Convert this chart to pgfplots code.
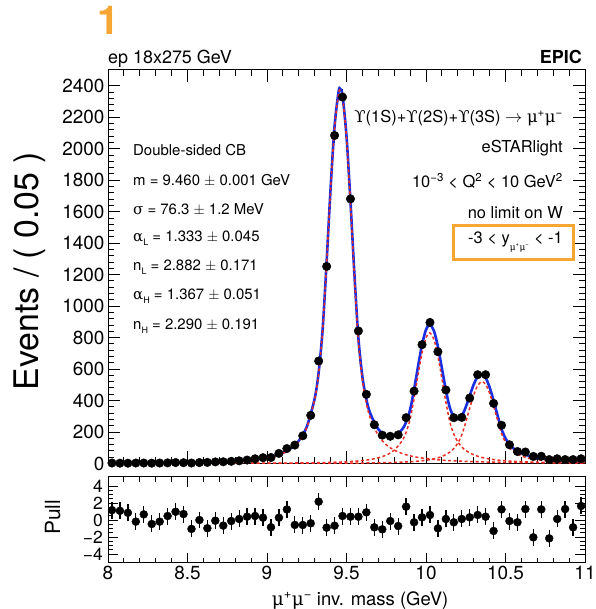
\documentclass[border=0pt]{standalone}
\usepackage{pgfplots}
\pgfplotsset{compat=1.18}
\usepackage{fontspec}
\setmainfont{TeX Gyre Heros}
\newfontfamily\grk{DejaVu Serif}
\definecolor{fitblue}{RGB}{25,45,225}
\definecolor{fitred}{RGB}{235,45,35}
\definecolor{hlorange}{RGB}{247,166,52}

\newcommand{\fs}[1]{\fontsize{#1}{#1}\selectfont}
\newcommand{\mup}{{\grk μ}\textsuperscript{+}}
\newcommand{\mum}{{\grk μ}\textsuperscript{−}}
\newcommand{\lsub}[1]{\raisebox{-0.45ex}{\fs{9}#1}}

% binned data: bin centre, events, stat. error
\pgfplotstableread{
x y e
8.025 3 1.7
8.075 2 1.4
8.125 2 1.4
8.175 3 1.7
8.225 3 1.7
8.275 2 1.4
8.325 3 1.7
8.375 4 2.0
8.425 6 2.4
8.475 5 2.2
8.525 3 1.7
8.575 6 2.4
8.625 7 2.6
8.675 10 3.2
8.725 11 3.3
8.775 14 3.7
8.825 17 4.1
8.875 22 4.7
8.925 30 5.5
8.975 37 6.1
9.025 38 6.2
9.075 64 8.0
9.125 95 9.7
9.175 117 10.8
9.225 176 13.3
9.275 306 17.5
9.325 651 25.5
9.375 1252 35.4
9.425 2084 45.7
9.475 2328 48.2
9.525 1681 41.0
9.575 842 29.0
9.625 439 21.0
9.675 246 15.7
9.725 180 13.4
9.775 173 13.2
9.825 182 13.5
9.875 291 17.1
9.925 460 21.4
9.975 755 27.5
10.025 896 29.9
10.075 710 26.6
10.125 467 21.6
10.175 291 17.1
10.225 293 17.1
10.275 416 20.4
10.325 564 23.7
10.375 564 23.7
10.425 382 19.5
10.475 243 15.6
10.525 119 10.9
10.575 76 8.7
10.625 73 8.5
10.675 45 6.7
10.725 46 6.8
10.775 25 5.0
10.825 30 5.5
10.875 25 5.0
10.925 25 5.0
10.975 30 5.5
}\datatab

% total fit (sum of the three double-sided CB shapes)
\pgfplotstableread{
x y
8.0 2.0
8.2 2.9
8.4 4.6
8.6 7.8
8.8 15.5
8.9 23.3
9.0 37.5
9.05 49.6
9.1 67.8
9.15 96.5
9.2 144.6
9.25 232.8
9.3 413.4
9.325 580.7
9.35 853
9.375 1281.5
9.4 1748.7
9.425 2143
9.45 2361
9.46 2381
9.475 2337
9.5 2079
9.525 1664
9.55 1199
9.575 794
9.6 551.5
9.625 407
9.65 316.8
9.7 218.1
9.75 178.2
9.8 176
9.85 216.6
9.875 263.6
9.9 341.9
9.925 469.6
9.95 617.5
9.975 754.7
10.0 850.4
10.023 882.8
10.05 842.4
10.075 741.4
10.1 605.6
10.125 466.2
10.15 353.9
10.175 298.2
10.2 282.3
10.225 301.4
10.25 358
10.275 431.1
10.3 501.6
10.325 552.5
10.352 568.7
10.375 545.1
10.4 484.3
10.425 399.4
10.45 305.7
10.475 219
10.5 159.2
10.525 121.4
10.55 96.1
10.6 65
10.65 47.5
10.7 36.4
10.75 29
10.8 23.7
10.9 16.8
11.0 12.6
}\totaltab

% Upsilon(1S) component
\pgfplotstableread{
x y
8.0 1.6
8.2 2.4
8.4 3.9
8.6 6.8
8.8 13.8
8.9 21.2
9.0 35.0
9.05 46.7
9.1 64.5
9.15 92.7
9.2 140.2
9.25 227.7
9.3 407.5
9.325 574.3
9.35 846
9.375 1274
9.4 1740
9.425 2133
9.45 2350
9.46 2370
9.475 2325
9.5 2066
9.525 1649
9.55 1182
9.575 775
9.6 529.7
9.625 382
9.65 287.6
9.7 177.7
9.75 119.3
9.8 85.0
9.85 63.3
9.9 48.7
9.95 38.5
10.0 31.2
10.1 21.4
10.2 15.5
10.3 11.7
10.4 9.1
10.5 7.3
10.6 5.9
10.7 4.9
10.8 4.1
10.9 3.5
11.0 3.0
}\onestab

% Upsilon(2S) component
\pgfplotstableread{
x y
8.0 0.3
8.5 0.6
9.0 1.9
9.2 3.4
9.3 4.7
9.4 7.0
9.5 11.0
9.55 14.1
9.6 18.7
9.65 25.4
9.7 35.9
9.75 53.3
9.8 84.1
9.85 144.5
9.875 198
9.9 281.7
9.925 413
9.95 563.7
9.975 702
10.0 798.7
10.023 830
10.05 787.3
10.075 682
10.1 539.7
10.125 390.1
10.15 263.6
10.175 186.2
10.2 137.7
10.225 105.5
10.25 83.1
10.3 54.9
10.35 38.7
10.4 28.6
10.45 21.8
10.5 17.2
10.55 13.8
10.6 11.3
10.65 9.5
10.7 8.0
10.8 5.9
10.9 4.5
11.0 3.5
}\twostab

% Upsilon(3S) component
\pgfplotstableread{
x y
8.0 0.1
9.0 0.6
9.4 1.6
9.6 3.0
9.7 4.4
9.8 6.7
9.85 8.6
9.9 11.2
9.95 14.9
10.0 20.5
10.05 29.5
10.1 44.5
10.15 72.2
10.175 95.2
10.2 129.1
10.225 181.5
10.25 261.5
10.275 351.6
10.3 435
10.325 495.5
10.352 520
10.375 502.1
10.4 446.6
10.425 365.8
10.45 275.8
10.475 191.9
10.5 134.7
10.525 99.1
10.55 75.7
10.6 47.8
10.65 32.6
10.7 23.5
10.75 17.6
10.8 13.7
10.85 10.9
10.9 8.8
10.95 7.3
11.0 6.1
}\threestab

% pulls
\pgfplotstableread{
x p
8.025 1.16
8.075 1.08
8.125 0.85
8.175 -0.19
8.225 0.66
8.275 -0.47
8.325 -0.19
8.375 0.47
8.425 0.97
8.475 0.70
8.525 -1.05
8.575 0.00
8.625 -0.97
8.675 -0.08
8.725 -0.66
8.775 -0.12
8.825 0.12
8.875 0.39
8.925 0.47
8.975 0.27
9.025 -0.85
9.075 0.27
9.125 1.24
9.175 -0.58
9.225 -0.59
9.275 -0.39
9.325 2.16
9.375 -0.90
9.425 -0.67
9.475 0.47
9.525 0.39
9.575 0.39
9.625 0.90
9.675 -0.86
9.725 -1.10
9.775 -0.12
9.825 -0.71
9.875 1.57
9.925 -0.27
9.975 0.31
10.025 0.59
10.075 -0.98
10.125 0.12
10.175 -0.27
10.225 0.12
10.275 0.31
10.325 0.59
10.375 0.39
10.425 -1.29
10.475 1.25
10.525 -0.12
10.575 -0.27
10.625 1.29
10.675 -2.04
10.725 1.25
10.775 -2.16
10.825 0.12
10.875 1.29
10.925 -0.86
10.975 1.65
}\pulltab

\pgfplotsset{
  rootframe/.style={
    scale only axis, width=477bp,
    xmin=8, xmax=11,
    xtick={8,8.5,...,11}, minor x tick num=4,
    tick align=inside, xtick pos=both, ytick pos=both,
    axis line style={black, line width=1bp},
    tick style={black, line width=0.9bp},
    /pgf/number format/assume math mode=true,
    /pgf/number format/1000 sep={},
    tick label style={font=\fs{19}},
  },
  datapts/.style={only marks, mark=*, mark size=4.3pt,
    mark options={black, fill=black},
    error bars/.cd, y dir=both, y explicit,
    error mark=none, error bar style={black, line width=1.3bp}},
}

\begin{document}
\begin{tikzpicture}
\path[use as bounding box] (0,0) rectangle (596bp,609bp);

% upper panel: invariant-mass spectrum with fit
\begin{axis}[rootframe,
  at={(108bp,539bp)}, anchor=north west, height=393.5bp,
  ymin=0, ymax=2500,
  ytick={0,200,...,2400}, minor y tick num=4,
  xticklabels={},
  major tick length=12bp, minor tick length=6bp,
  clip=true]
\addplot[datapts] table[x=x, y=y, y error=e] {\datatab};
\addplot[fitblue, line width=2.6bp, smooth] table[x=x, y=y] {\totaltab};
\addplot[fitred, line width=1.5bp, dash pattern=on 3bp off 2.5bp, smooth] table[x=x, y=y] {\onestab};
\addplot[fitred, line width=1.5bp, dash pattern=on 3bp off 2.5bp, smooth] table[x=x, y=y] {\twostab};
\addplot[fitred, line width=1.5bp, dash pattern=on 3bp off 2.5bp, smooth] table[x=x, y=y] {\threestab};
\end{axis}

% lower panel: pulls
\begin{axis}[rootframe,
  at={(108bp,132bp)}, anchor=north west, height=86bp,
  ymin=-5.06, ymax=5.06,
  ytick={-4,-2,0,2,4}, yticklabels={−4,−2,0,2,4}, minor y tick num=3,
  yticklabel style={font=\fs{17.5}, inner ysep=0.5bp, inner xsep=5bp},
  xticklabels={8,8.5,9,9.5,10,10.5,11},
  major tick length=10bp, minor tick length=5bp]
\addplot[only marks, mark=*, mark size=4pt, mark options={black, fill=black},
  error bars/.cd, y dir=both, y fixed=1, error mark=none,
  error bar style={black, line width=1.3bp}] table[x=x, y=p] {\pulltab};
\end{axis}

% axis titles
\node[rotate=90, anchor=base, font=\fs{34}] at (38bp,338bp) {Events / ( 0.05 )};
\node[rotate=90, anchor=base, font=\fs{21}, inner sep=0pt] at (60bp,91.5bp) {Pull};
\node[anchor=base, font=\fs{18.5}] at (360bp,4bp) {\mup\mum\ inv. mass (GeV)};

% header
\node[anchor=base west, font=\fs{40}\bfseries, text=hlorange, inner sep=0pt] at (97bp,574bp) {1};
\node[anchor=base west, font=\fs{18}, inner sep=0pt] at (108bp,545bp) {ep 18x275 GeV};
\node[anchor=base east, font=\fs{18}\bfseries, inner sep=0pt] at (582bp,545bp) {EPIC};

% fit parameters
\begin{scope}[every node/.style={anchor=base west, font=\fs{15}, inner sep=0pt}]
\node at (133bp,453.6bp) {Double-sided CB};
\node at (133bp,423.6bp) {m = 9.460 $\pm$ 0.001 GeV};
\node at (133bp,394.6bp) {{\grk σ} = 76.3 $\pm$ 1.2 MeV};
\node at (133bp,367bp) {{\grk α}\lsub{L} = 1.333 $\pm$ 0.045};
\node at (133bp,338bp) {n\lsub{L} = 2.882 $\pm$ 0.171};
\node at (133bp,309bp) {{\grk α}\lsub{H} = 1.367 $\pm$ 0.051};
\node at (133bp,279bp) {n\lsub{H} = 2.290 $\pm$ 0.191};
\end{scope}

% sample description
\begin{scope}[every node/.style={anchor=base east, font=\fs{16.5}, inner sep=0pt}]
\node at (563bp,486.3bp) {{\grk ϒ}(1S)+{\grk ϒ}(2S)+{\grk ϒ}(3S) $\rightarrow$ \mup\mum};
\node at (563bp,456bp) {eSTARlight};
\node at (563bp,421bp) {10\textsuperscript{−3} < Q\textsuperscript{2} < 10 GeV\textsuperscript{2}};
\node at (563bp,390.3bp) {no limit on W};
\node at (563bp,365bp) {-3 < y\raisebox{-0.7ex}{\fs{9}{\grk μ}\textsuperscript{+}{\grk μ}\textsuperscript{−}} < -1};
\end{scope}
\draw[hlorange, line width=3bp] (453.3bp,383bp) rectangle (573.3bp,349bp);
\end{tikzpicture}
\end{document}
